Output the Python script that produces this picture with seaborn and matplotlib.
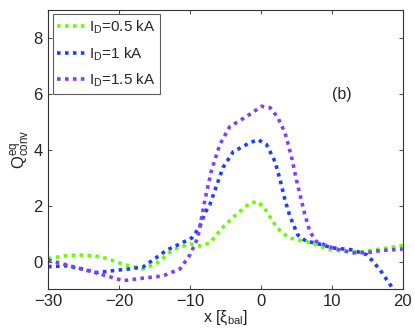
import numpy as np
import pandas as pd
import matplotlib
matplotlib.use("Agg")
import matplotlib.pyplot as plt
import seaborn as sns

# ---- data ----
labels = ["$\\mathregular{I_D}$=0.5 kA", "$\\mathregular{I_D}$=1 kA", "$\\mathregular{I_D}$=1.5 kA"]

x_05 = [-30, -27.5, -25.8, -23.5, -21.7, -19.2, -16.6, -14.7, -12.4, -10, -8.6, -7.2,
        -5.5, -3.7, -1.55, -0.4, 0.56, 2, 2.9, 4.1, 5.2, 6.5, 9, 10.1, 12, 14.2, 16.8, 20]
y_05 = [0.12, 0.22, 0.25, 0.22, 0.12, -0.1, -0.25, -0.05, 0.43, 0.64, 0.57, 0.68,
        1.2, 1.64, 2.1, 2.15, 1.89, 1.32, 1.05, 0.85, 0.79, 0.72, 0.5, 0.42, 0.38, 0.36, 0.46, 0.58]

x_1 = [-30, -27.4, -25.2, -23.1, -20.8, -18.5, -16.6, -15.2, -13.2, -11.1, -9.7, -8.6,
       -7.9, -7.2, -5.35, -3.9, -1.55, -0.4, 0.8, 2, 2.7, 3.4, 4.1, 5.2, 6.4, 7.6,
       10.1, 12.8, 15, 16.8, 18.4, 19.2]
y_1 = [-0.17, -0.14, -0.25, -0.38, -0.31, -0.25, -0.18, 0.07, 0.43, 0.68, 0.86, 1.26,
       1.74, 2.04, 3.36, 3.93, 4.25, 4.36, 4.18, 3.57, 2.93, 2.2, 1.62, 0.96, 0.73, 0.68,
       0.5, 0.43, 0.25, -0.29, -0.88, -1.1]

x_15 = [-30, -26.9, -23.1, -19.4, -16.6, -13.8, -11.4, -10, -8.9, -7.9, -7.0, -5.8,
        -4.4, -2, 0.1, 1.3, 2.4, 3.4, 4.3, 5.0, 5.6, 6.2, 6.9, 7.8, 10.1, 12.9, 15,
        16.8, 20]
y_15 = [0.07, -0.14, -0.4, -0.67, -0.58, -0.5, -0.25, 0.25, 0.86, 2.2, 3.23, 4.18,
        4.82, 5.19, 5.55, 5.5, 5.14, 4.6, 3.76, 2.93, 2.3, 1.68, 1.08, 0.73, 0.5, 0.32, 0.33,
        0.4, 0.46]

colors = ["#66ff00", "#1f3fff", "#7f3fff"]

x_ticks = [-30, -20, -10, 0, 10, 20]
x_tick_labels = ["\u221230", "\u221220", "\u221210", "0", "10", "20"]
y_ticks = [0, 2, 4, 6, 8]

df = pd.concat([
    pd.DataFrame({"x": x_05, "y": y_05, "series": labels[0]}),
    pd.DataFrame({"x": x_1, "y": y_1, "series": labels[1]}),
    pd.DataFrame({"x": x_15, "y": y_15, "series": labels[2]}),
], ignore_index=True)

sns.set_style("ticks")
plt.rcParams["font.family"] = ["Liberation Sans", "DejaVu Sans"]
plt.rcParams["mathtext.fontset"] = "custom"
plt.rcParams["mathtext.rm"] = "Liberation Sans"
plt.rcParams["mathtext.it"] = "Liberation Sans"

fig = plt.figure(figsize=(4.15, 3.29), dpi=100)
ax = fig.add_axes([0.1157, 0.123, 0.855, 0.848])

sns.lineplot(data=df, x="x", y="y", hue="series", palette=colors, ax=ax,
             estimator=None, sort=False, linewidth=2.6, legend=True)
for ln in ax.get_lines():
    ln.set_linestyle((0, (1.0, 1.2)))
    ln.set_dash_capstyle("butt")

ax.set_xlim(-30, 20)
ax.set_ylim(-0.95, 9)
ax.set_xticks(x_ticks)
ax.set_yticks(y_ticks)
ax.set_xticklabels(x_tick_labels)
ax.tick_params(direction="in", top=True, right=True, labelsize=12, length=3,
               color="#555555", pad=4)
for s in ax.spines.values():
    s.set_color("#333333")
    s.set_linewidth(0.8)

ax.set_xlabel("x [$\\mathregular{\\xi_{bal}}$]", fontsize=11.5, labelpad=0)
ax.set_ylabel("$\\mathregular{Q^{eq}_{conv}}$", fontsize=12, labelpad=1)
ax.text(11.4, 5.96, "(b)", fontsize=11.5, ha="center", va="center")

handles, _ = ax.get_legend_handles_labels()
for h in handles:
    h.set_linestyle((0, (1.0, 1.2)))
leg = ax.legend(handles, labels, loc="upper left", fontsize=11, frameon=True,
                fancybox=False, edgecolor="#333333", handlelength=1.8,
                handletextpad=0.3, borderaxespad=0.3, labelspacing=0.6,
                borderpad=0.3)
leg.get_frame().set_linewidth(0.8)

fig.savefig("out.png", dpi=100)
